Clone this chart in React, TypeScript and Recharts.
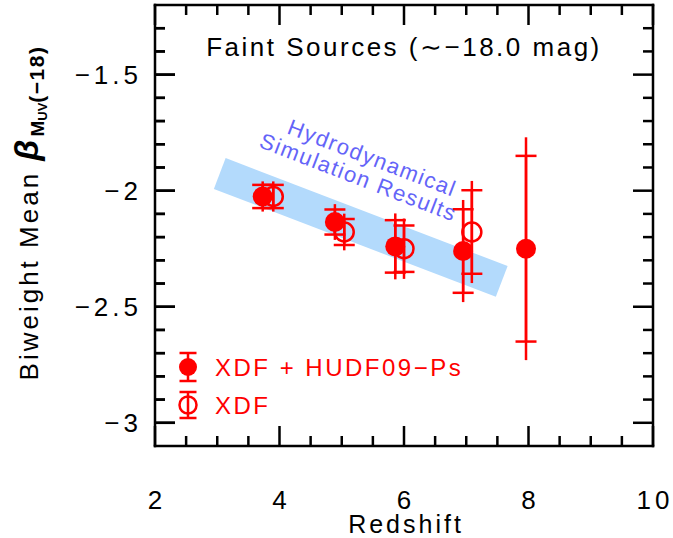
import React from 'react';
import {
  ScatterChart,
  Scatter,
  XAxis,
  YAxis,
  ErrorBar,
  ReferenceLine,
  ReferenceDot,
  ReferenceArea,
} from 'recharts';

// XDF + HUDF09-Ps (filled circles)
const zFilled = [3.73, 4.89, 5.86, 6.95, 7.96];
const betaFilled = [-2.025, -2.135, -2.24, -2.26, -2.25];
const errFilled = [0.05, 0.054, 0.113, 0.18, 0.4];
const errFilledOuter = [0.065, 0.077, 0.142, 0.22, 0.48];

// XDF only (open circles)
const zOpen = [3.9, 5.04, 6.0, 7.09];
const betaOpen = [-2.025, -2.178, -2.25, -2.178];
const errOpen = [0.05, 0.056, 0.1, 0.18];
const errOpenOuter = [0.065, 0.079, 0.13, 0.22];

// hydrodynamical simulation band (centre line ends)
const simBandZ = [3.04, 7.57];
const simBandBeta = [-1.926, -2.391];

const xTicks = [2, 2.5, 3, 3.5, 4, 4.5, 5, 5.5, 6, 6.5, 7, 7.5, 8, 8.5, 9, 9.5, 10];
const yTicks = [-3, -2.9, -2.8, -2.7, -2.6, -2.5, -2.4, -2.3, -2.2, -2.1, -2, -1.9, -1.8, -1.7, -1.6, -1.5, -1.4, -1.3];
const xDomain = [2, 10];
const yDomain = [-3.1, -1.2];

const filledData = zFilled.map((z, i) => ({
  z,
  beta: betaFilled[i],
  err: errFilled[i],
  errOuter: errFilledOuter[i],
}));
const openData = zOpen.map((z, i) => ({
  z,
  beta: betaOpen[i],
  err: errOpen[i],
  errOuter: errOpenOuter[i],
}));

const RED = '#ff0000';
const FONT = '"Liberation Sans", Arial, sans-serif';
const TICK_OFFSET = 8; // default tickSize (6) + tickMargin (2)

// plot box in px, only used to turn tick lengths into axis units
const PLOT_W = 498;
const PLOT_H = 441;
const xPerPx = (xDomain[1] - xDomain[0]) / PLOT_W;
const yPerPx = (yDomain[1] - yDomain[0]) / PLOT_H;

const isMajorX = (v: number) => Math.abs(v / 2 - Math.round(v / 2)) < 1e-6;
const isMajorY = (v: number) => Math.abs(v * 2 - Math.round(v * 2)) < 1e-6;
const tickLen = (major: boolean) => (major ? 20 : 10);

// inward ticks drawn as one-sided error bars from the frame edges
const bottomTicks = xTicks.map((v) => ({ z: v, beta: yDomain[0], e: [0, tickLen(isMajorX(v)) * yPerPx] }));
const leftTicks = yTicks.map((v) => ({ z: xDomain[0], beta: v, e: [0, tickLen(isMajorY(v)) * xPerPx] }));

const NoShape = () => <g />;

const RightTickLabel = (props: any) => {
  const { viewBox, len } = props;
  const x = viewBox.x + viewBox.width / 2;
  const y = viewBox.y + viewBox.height / 2;
  return <path d={`M${x},${y}H${x - len}`} stroke="#000" strokeWidth={2.5} fill="none" />;
};

const BottomTick = (props: any) => {
  const { x, payload } = props;
  const y0 = props.y - TICK_OFFSET;
  const v = payload.value;
  if (!isMajorX(v)) return <g />;
  return (
    <text x={x + 2} y={y0 + 63} textAnchor="middle" fontFamily={FONT} fontSize={26} letterSpacing={4} fill="#000">
      {v}
    </text>
  );
};

const LeftTick = (props: any) => {
  const { y, payload } = props;
  const x0 = props.x + TICK_OFFSET;
  const v = payload.value;
  const major = isMajorY(v);
  return (
    <g>
      <line x1={x0} y1={y} x2={x0 + tickLen(major)} y2={y} stroke="#000" strokeWidth={2.5} />
      {major && (
        <text x={x0 - 13} y={y + 9} textAnchor="end" fontFamily={FONT} fontSize={26} letterSpacing={4} fill="#000">
          {String(v).replace('-', '\u2212')}
        </text>
      )}
    </g>
  );
};

const YLabel = (props: any) => {
  const { viewBox } = props;
  const cx = viewBox.x + 38;
  const cy = viewBox.y + 208;
  return (
    <text
      x={cx}
      y={cy}
      transform={`rotate(-90, ${cx}, ${cy})`}
      textAnchor="middle"
      fontFamily={FONT}
      fontSize={26}
      letterSpacing={3}
      fill="#000"
    >
      <tspan>Biweight Mean </tspan>
      <tspan fontSize={34} fontWeight="bold" fontStyle="italic">β</tspan>
      <tspan fontSize={19} fontWeight="bold" letterSpacing={0} dy={6}>M</tspan>
      <tspan fontSize={13} fontWeight="bold" letterSpacing={0} dy={3}>UV</tspan>
      <tspan fontSize={21} fontWeight="bold" letterSpacing={1.5} dy={-3}>(−18)</tspan>
    </text>
  );
};

const XLabel = (props: any) => {
  const { viewBox } = props;
  return (
    <text
      x={viewBox.x + viewBox.width / 2 + 2}
      y={viewBox.y + 87}
      textAnchor="middle"
      fontFamily={FONT}
      fontSize={25}
      letterSpacing={3}
      fill="#000"
    >
      Redshift
    </text>
  );
};

// title hangs from the top edge of the frame
const TitleLabel = (props: any) => {
  const { viewBox } = props;
  return (
    <text
      x={viewBox.x + viewBox.width / 2}
      y={viewBox.y + viewBox.height / 2 + 51}
      textAnchor="middle"
      fontFamily={FONT}
      fontSize={26}
      letterSpacing={2.5}
      fill="#000"
    >
      Faint Sources (∼−18.0 mag)
    </text>
  );
};

const SimLabel = (props: any) => {
  const { viewBox } = props;
  const x = viewBox.x + viewBox.width / 2;
  const y = viewBox.y + viewBox.height / 2;
  return (
    <g transform={`rotate(21, ${x}, ${y})`} fontFamily={FONT} fontSize={22} letterSpacing={1.5} fill="#6464f8">
      <text x={x + 6} y={y - 4.5} textAnchor="middle">Hydrodynamical</text>
      <text x={x} y={y + 18.5} textAnchor="middle">Simulation Results</text>
    </g>
  );
};

// legend box, anchored to the lower-left corner of the frame
const LegendLabel = (props: any) => {
  const { viewBox } = props;
  const ox = viewBox.x + viewBox.width / 2 + 15;
  const oy = viewBox.y + viewBox.height / 2 - 101;
  return (
    <g transform={`translate(${ox}, ${oy})`}>
      <line x1={18} y1={8} x2={18} y2={36} stroke={RED} strokeWidth={2.5} />
      <line x1={9.5} y1={8} x2={26.5} y2={8} stroke={RED} strokeWidth={2.5} />
      <line x1={9.5} y1={36} x2={26.5} y2={36} stroke={RED} strokeWidth={2.5} />
      <circle cx={18} cy={22} r={9} fill={RED} />
      <text x={45} y={30.5} fontFamily={FONT} fontSize={24} letterSpacing={2.5} fill={RED}>
        XDF + HUDF09−Ps
      </text>
      <line x1={18} y1={47} x2={18} y2={73} stroke={RED} strokeWidth={2.5} />
      <line x1={9.5} y1={47} x2={26.5} y2={47} stroke={RED} strokeWidth={2.5} />
      <line x1={9.5} y1={73} x2={26.5} y2={73} stroke={RED} strokeWidth={2.5} />
      <circle cx={18} cy={60} r={8.5} fill="none" stroke={RED} strokeWidth={2.5} />
      <text x={45} y={68.5} fontFamily={FONT} fontSize={24} letterSpacing={2.5} fill={RED}>
        XDF
      </text>
    </g>
  );
};

const FilledDot = (props: any) => <circle cx={props.cx} cy={props.cy} r={10} fill={RED} />;
const OpenDot = (props: any) => (
  <circle cx={props.cx} cy={props.cy} r={9.5} fill="none" stroke={RED} strokeWidth={2.5} />
);

const frame = { stroke: '#000', strokeWidth: 2.5, strokeLinecap: 'square' as const, ifOverflow: 'visible' as const };

export default function App() {
  return (
    <div style={{ position: 'absolute', left: 0, top: 0, background: '#fff' }}>
      <ScatterChart width={673} height={538} margin={{ top: 5, right: 20, bottom: 0, left: 0 }}>
        <XAxis
          dataKey="z"
          type="number"
          domain={xDomain}
          ticks={xTicks}
          interval={0}
          tick={<BottomTick />}
          tickLine={{ stroke: 'none' }}
          axisLine={false}
          height={92}
          allowDataOverflow
          label={<XLabel />}
        />
        <YAxis
          dataKey="beta"
          type="number"
          domain={yDomain}
          ticks={yTicks}
          interval={0}
          tick={<LeftTick />}
          tickLine={{ stroke: 'none' }}
          axisLine={false}
          width={155}
          allowDataOverflow
          label={<YLabel />}
        />
        {/* box frame */}
        <ReferenceLine y={yDomain[0]} {...frame} />
        <ReferenceLine y={yDomain[1]} {...frame} />
        <ReferenceLine x={xDomain[0]} {...frame} />
        <ReferenceLine x={xDomain[1]} {...frame} />
        {/* top ticks as thin rectangles hanging from the frame */}
        {xTicks.map((v) => (
          <ReferenceArea
            key={`top${v}`}
            x1={v - 1.25 * xPerPx}
            x2={v + 1.25 * xPerPx}
            y1={yDomain[1] - tickLen(isMajorX(v)) * yPerPx}
            y2={yDomain[1]}
            fill="#000"
            fillOpacity={1}
            stroke="none"
            ifOverflow="visible"
          />
        ))}
        {/* right ticks */}
        {yTicks.map((v) => (
          <ReferenceDot
            key={`right${v}`}
            x={xDomain[1]}
            y={v}
            r={1}
            fill="none"
            stroke="none"
            ifOverflow="visible"
            label={<RightTickLabel len={tickLen(isMajorY(v))} />}
          />
        ))}
        <ReferenceLine
          segment={[
            { x: simBandZ[0], y: simBandBeta[0] },
            { x: simBandZ[1], y: simBandBeta[1] },
          ]}
          stroke="#b3dafc"
          strokeWidth={33}
          ifOverflow="visible"
        />
        <ReferenceDot x={5.33} y={-1.898} r={1} fill="none" stroke="none" ifOverflow="visible" label={<SimLabel />} />
        <ReferenceDot x={6} y={yDomain[1]} r={1} fill="none" stroke="none" ifOverflow="visible" label={<TitleLabel />} />
        <ReferenceDot
          x={xDomain[0]}
          y={yDomain[0]}
          r={1}
          fill="none"
          stroke="none"
          ifOverflow="visible"
          label={<LegendLabel />}
        />
        <Scatter data={bottomTicks} shape={<NoShape />} isAnimationActive={false}>
          <ErrorBar dataKey="e" direction="y" width={0} stroke="#000" strokeWidth={2.5} isAnimationActive={false} />
        </Scatter>
        <Scatter data={leftTicks} shape={<NoShape />} isAnimationActive={false}>
          <ErrorBar dataKey="e" direction="x" width={0} stroke="#000" strokeWidth={2.5} isAnimationActive={false} />
        </Scatter>
        <Scatter data={openData} shape={<OpenDot />} isAnimationActive={false}>
          <ErrorBar dataKey="errOuter" direction="y" width={0} stroke={RED} strokeWidth={2.5} isAnimationActive={false} />
          <ErrorBar dataKey="err" direction="y" width={10.5} stroke={RED} strokeWidth={2.5} isAnimationActive={false} />
        </Scatter>
        <Scatter data={filledData} shape={<FilledDot />} isAnimationActive={false}>
          <ErrorBar dataKey="errOuter" direction="y" width={0} stroke={RED} strokeWidth={2.5} isAnimationActive={false} />
          <ErrorBar dataKey="err" direction="y" width={10.5} stroke={RED} strokeWidth={2.5} isAnimationActive={false} />
        </Scatter>
      </ScatterChart>
    </div>
  );
}
